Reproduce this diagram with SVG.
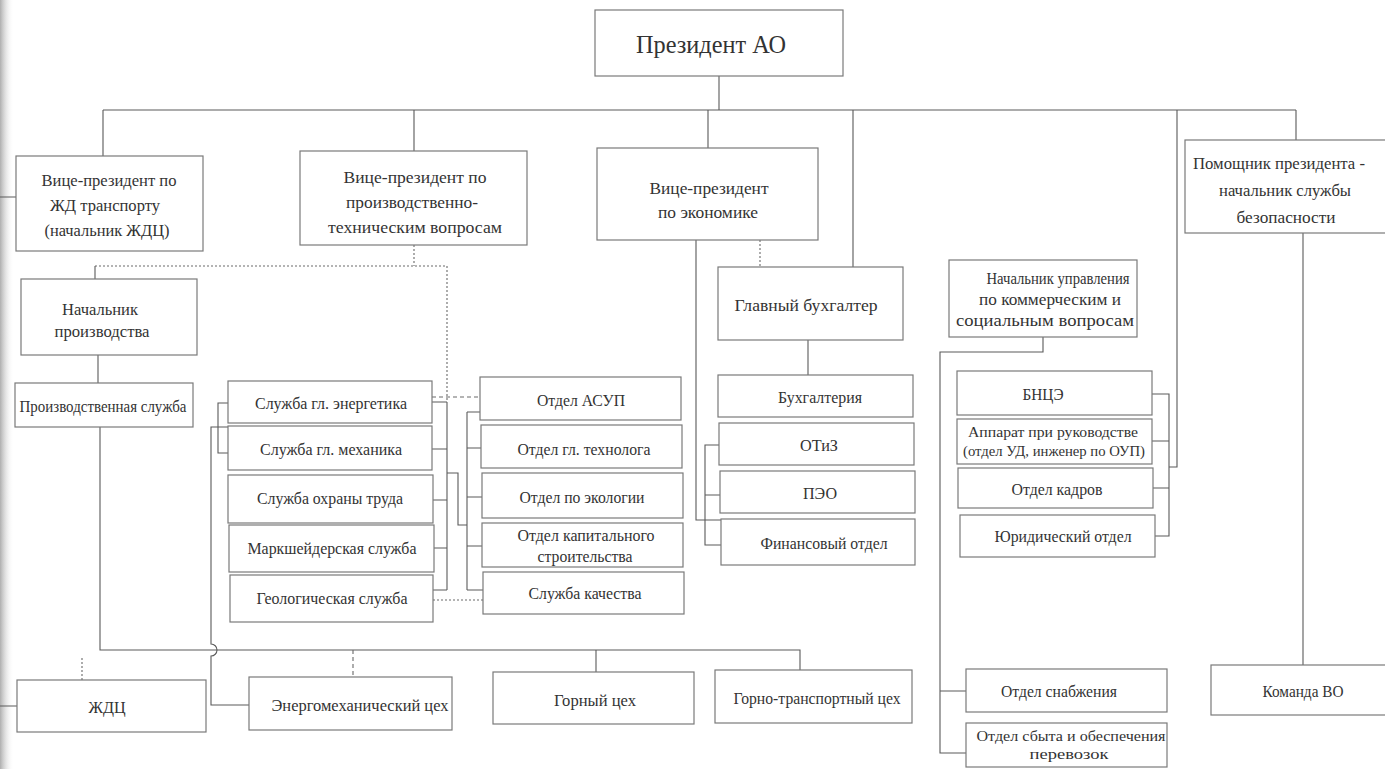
<svg xmlns="http://www.w3.org/2000/svg" width="1385" height="769" viewBox="0 0 1385 769">
<defs>
<linearGradient id="edge" x1="0" y1="0" x2="1" y2="0">
<stop offset="0" stop-color="#9a9a9a" stop-opacity="0.8"/>
<stop offset="1" stop-color="#ffffff" stop-opacity="0"/>
</linearGradient>
</defs>
<style>
.bx{fill:#ffffff;stroke:#7a7a7a;stroke-width:1.2}
text{font-family:'Liberation Serif','DejaVu Serif',serif}
.t{font-size:16px;fill:#333;text-anchor:middle;dominant-baseline:central}
.s{font-size:15px}
.b{font-size:17px}
.c{fill:none;stroke:#5a5a5a;stroke-width:1.1}
.d{fill:none;stroke:#6a6a6a;stroke-width:1.1;stroke-dasharray:4 3}
.o{fill:none;stroke:#6a6a6a;stroke-width:1.1;stroke-dasharray:2 2}
</style>
<rect width="1385" height="769" fill="#ffffff"/>
<rect width="14" height="769" fill="url(#edge)"/>

<g id="connectors">
<path class="c" d="M719,76 V110"/>
<path class="c" d="M103,110 H1296"/>
<path class="c" d="M103,110 V156 M414,110 V151 M708,110 V148 M853,110 V267 M1296,110 V140"/>
<path class="c" d="M1177,110 V467 H1169"/>
<path class="o" d="M414,245 V266"/>
<path class="o" d="M95,266 H447 V402"/>
<path class="c" d="M95,266 V279"/>
<path class="c" d="M447,402 V590"/>
<path class="c" d="M432,402 H447 M432,449 H447 M433,500 H447 M434,548 H447 M433,590 H447"/>
<path class="c" d="M447,473 H458 V525 H467"/>
<path class="c" d="M467,412 V590"/>
<path class="c" d="M467,412 H481 M467,448 H481 M467,497 H482 M467,546 H482 M467,590 H483"/>
<path class="d" d="M432,397 H480"/>
<path class="o" d="M433,600 H483"/>
<path class="c" d="M228,403 H218 V453 H228"/>
<path class="c" d="M228,427 H211 V644 A6,6 0 0 1 211,656 V705 H249"/>
<path class="c" d="M98,355 V383"/>
<path class="c" d="M100,427 V650 H800 V670"/>
<path class="c" d="M596,650 V672"/>
<path class="d" d="M353,650 V677"/>
<path class="o" d="M82,658 V680"/>
<path class="c" d="M0,197 H16 M0,706 H17"/>
<path class="c" d="M696,240 V520 H721"/>
<path class="o" d="M760,240 V267"/>
<path class="c" d="M808,340 V375"/>
<path class="c" d="M719,445 H705 V545 H721 M705,495 H720"/>
<path class="c" d="M1043,337 V352 H940 V753 H966 M940,691 H966"/>
<path class="c" d="M1152,394 H1169 V536 H1155 M1152,441 H1169 M1153,488 H1169"/>
<path class="c" d="M1303,233 V665"/>
</g>

<g id="president"><rect class="bx" x="595" y="10" width="248" height="66"/><text class="t" x="711" y="44" style="font-size:26px" textLength="150" lengthAdjust="spacingAndGlyphs">Президент АО</text></g>

<g id="vp_zhd"><rect class="bx" x="16" y="156" width="187" height="95"/>
<text class="t b" x="109" y="180" textLength="135" lengthAdjust="spacingAndGlyphs">Вице-президент по</text>
<text class="t b" x="105" y="205" textLength="110" lengthAdjust="spacingAndGlyphs">ЖД транспорту</text>
<text class="t b" x="107" y="230" textLength="125" lengthAdjust="spacingAndGlyphs">(начальник ЖДЦ)</text></g>

<g id="vp_prod"><rect class="bx" x="300" y="151" width="227" height="94"/>
<text class="t b" x="415" y="177" textLength="143" lengthAdjust="spacingAndGlyphs">Вице-президент по</text>
<text class="t b" x="412" y="202" textLength="132" lengthAdjust="spacingAndGlyphs">производственно-</text>
<text class="t b" x="415" y="227" textLength="174" lengthAdjust="spacingAndGlyphs">техническим вопросам</text></g>

<g id="vp_econ"><rect class="bx" x="597" y="148" width="221" height="92"/>
<text class="t b" x="709" y="188" textLength="119" lengthAdjust="spacingAndGlyphs">Вице-президент</text>
<text class="t b" x="708" y="212" textLength="100" lengthAdjust="spacingAndGlyphs">по экономике</text></g>

<g id="pomoshnik"><rect class="bx" x="1185" y="140" width="210" height="93"/>
<text class="t b" x="1279" y="163" textLength="172" lengthAdjust="spacingAndGlyphs">Помощник президента -</text>
<text class="t b" x="1285" y="190" textLength="132" lengthAdjust="spacingAndGlyphs">начальник службы</text>
<text class="t b" x="1286" y="217" textLength="99" lengthAdjust="spacingAndGlyphs">безопасности</text></g>

<g id="nach_proizv"><rect class="bx" x="21" y="279" width="176" height="76"/>
<text class="t b" x="100" y="309" textLength="76" lengthAdjust="spacingAndGlyphs">Начальник</text>
<text class="t b" x="102" y="331" textLength="95" lengthAdjust="spacingAndGlyphs">производства</text></g>

<g id="proizv_sluzhba"><rect class="bx" x="15" y="383" width="178" height="44"/>
<text class="t" x="103" y="406" textLength="167" lengthAdjust="spacingAndGlyphs">Производственная служба</text></g>

<g id="sl_energ"><rect class="bx" x="228" y="381" width="204" height="42"/>
<text class="t" x="331" y="403" textLength="152" lengthAdjust="spacingAndGlyphs">Служба гл. энергетика</text></g>
<g id="sl_mekh"><rect class="bx" x="228" y="426" width="204" height="44"/>
<text class="t" x="331" y="449" textLength="142" lengthAdjust="spacingAndGlyphs">Служба гл. механика</text></g>
<g id="sl_okhr"><rect class="bx" x="228" y="475" width="205" height="48"/>
<text class="t" x="330" y="498" textLength="146" lengthAdjust="spacingAndGlyphs">Служба охраны труда</text></g>
<g id="marksh"><rect class="bx" x="229" y="525" width="205" height="47"/>
<text class="t" x="332" y="548" textLength="169" lengthAdjust="spacingAndGlyphs">Маркшейдерская служба</text></g>
<g id="geolog"><rect class="bx" x="230" y="575" width="203" height="47"/>
<text class="t" x="332" y="598" textLength="151" lengthAdjust="spacingAndGlyphs">Геологическая служба</text></g>

<g id="asup"><rect class="bx" x="480" y="377" width="201" height="43"/>
<text class="t" x="581" y="400" textLength="88" lengthAdjust="spacingAndGlyphs">Отдел АСУП</text></g>
<g id="tekhnolog"><rect class="bx" x="481" y="425" width="201" height="43"/>
<text class="t" x="584" y="449" textLength="133" lengthAdjust="spacingAndGlyphs">Отдел гл. технолога</text></g>
<g id="ekolog"><rect class="bx" x="482" y="473" width="201" height="45"/>
<text class="t" x="582" y="497" textLength="125" lengthAdjust="spacingAndGlyphs">Отдел по экологии</text></g>
<g id="kapstroi"><rect class="bx" x="482" y="523" width="201" height="44"/>
<text class="t" x="586" y="535" textLength="137" lengthAdjust="spacingAndGlyphs">Отдел капитального</text>
<text class="t" x="585" y="556" textLength="95" lengthAdjust="spacingAndGlyphs">строительства</text></g>
<g id="kachestvo"><rect class="bx" x="483" y="572" width="201" height="42"/>
<text class="t" x="585" y="593" textLength="113" lengthAdjust="spacingAndGlyphs">Служба качества</text></g>

<g id="glavbukh"><rect class="bx" x="718" y="267" width="185" height="73"/>
<text class="t" x="806" y="305" textLength="143" lengthAdjust="spacingAndGlyphs">Главный бухгалтер</text></g>
<g id="bukhgalt"><rect class="bx" x="718" y="375" width="195" height="42"/>
<text class="t" x="820" y="397" textLength="84" lengthAdjust="spacingAndGlyphs">Бухгалтерия</text></g>
<g id="otiz"><rect class="bx" x="719" y="423" width="195" height="42"/>
<text class="t" x="819" y="445" textLength="38" lengthAdjust="spacingAndGlyphs">ОТиЗ</text></g>
<g id="peo"><rect class="bx" x="720" y="471" width="195" height="42"/>
<text class="t" x="820" y="493" textLength="34" lengthAdjust="spacingAndGlyphs">ПЭО</text></g>
<g id="finans"><rect class="bx" x="721" y="519" width="194" height="46"/>
<text class="t" x="824" y="543" textLength="127" lengthAdjust="spacingAndGlyphs">Финансовый отдел</text></g>

<g id="nach_upr"><rect class="bx" x="949" y="260" width="188" height="77"/>
<text class="t" x="1058" y="278" textLength="143" lengthAdjust="spacingAndGlyphs">Начальник управления</text>
<text class="t" x="1050" y="299" textLength="142" lengthAdjust="spacingAndGlyphs">по коммерческим и</text>
<text class="t" x="1045" y="320" textLength="178" lengthAdjust="spacingAndGlyphs">социальным вопросам</text></g>

<g id="bnce"><rect class="bx" x="957" y="371" width="195" height="44"/>
<text class="t" x="1043" y="394" textLength="41" lengthAdjust="spacingAndGlyphs">БНЦЭ</text></g>
<g id="apparat"><rect class="bx" x="957" y="419" width="195" height="45"/>
<text class="t s" x="1053" y="432" textLength="170" lengthAdjust="spacingAndGlyphs">Аппарат при руководстве</text>
<text class="t s" x="1054" y="451" textLength="182" lengthAdjust="spacingAndGlyphs">(отдел УД, инженер по ОУП)</text></g>
<g id="kadry"><rect class="bx" x="958" y="468" width="195" height="40"/>
<text class="t" x="1057" y="489" textLength="91" lengthAdjust="spacingAndGlyphs">Отдел кадров</text></g>
<g id="yurid"><rect class="bx" x="960" y="515" width="195" height="42"/>
<text class="t" x="1063" y="536" textLength="137" lengthAdjust="spacingAndGlyphs">Юридический отдел</text></g>

<g id="zhdc"><rect class="bx" x="17" y="680" width="189" height="52"/>
<text class="t" x="107" y="707" textLength="37" lengthAdjust="spacingAndGlyphs">ЖДЦ</text></g>
<g id="energomekh"><rect class="bx" x="249" y="677" width="203" height="53"/>
<text class="t" x="360" y="705" textLength="177" lengthAdjust="spacingAndGlyphs">Энергомеханический цех</text></g>
<g id="gorny"><rect class="bx" x="493" y="672" width="201" height="52"/>
<text class="t" x="595" y="700" textLength="82" lengthAdjust="spacingAndGlyphs">Горный цех</text></g>
<g id="gorno_transp"><rect class="bx" x="715" y="670" width="197" height="53"/>
<text class="t" x="817" y="698" textLength="167" lengthAdjust="spacingAndGlyphs">Горно-транспортный цех</text></g>
<g id="snabzh"><rect class="bx" x="966" y="669" width="201" height="43"/>
<text class="t" x="1059" y="691" textLength="116" lengthAdjust="spacingAndGlyphs">Отдел снабжения</text></g>
<g id="sbyt"><rect class="bx" x="966" y="723" width="201" height="44"/>
<text class="t s" x="1071" y="736" textLength="189" lengthAdjust="spacingAndGlyphs">Отдел сбыта и обеспечения</text>
<text class="t s" x="1069" y="754" textLength="79" lengthAdjust="spacingAndGlyphs">перевозок</text></g>
<g id="komanda"><rect class="bx" x="1211" y="665" width="175" height="50"/>
<text class="t" x="1303" y="691" textLength="81" lengthAdjust="spacingAndGlyphs">Команда ВО</text></g>
</svg>
